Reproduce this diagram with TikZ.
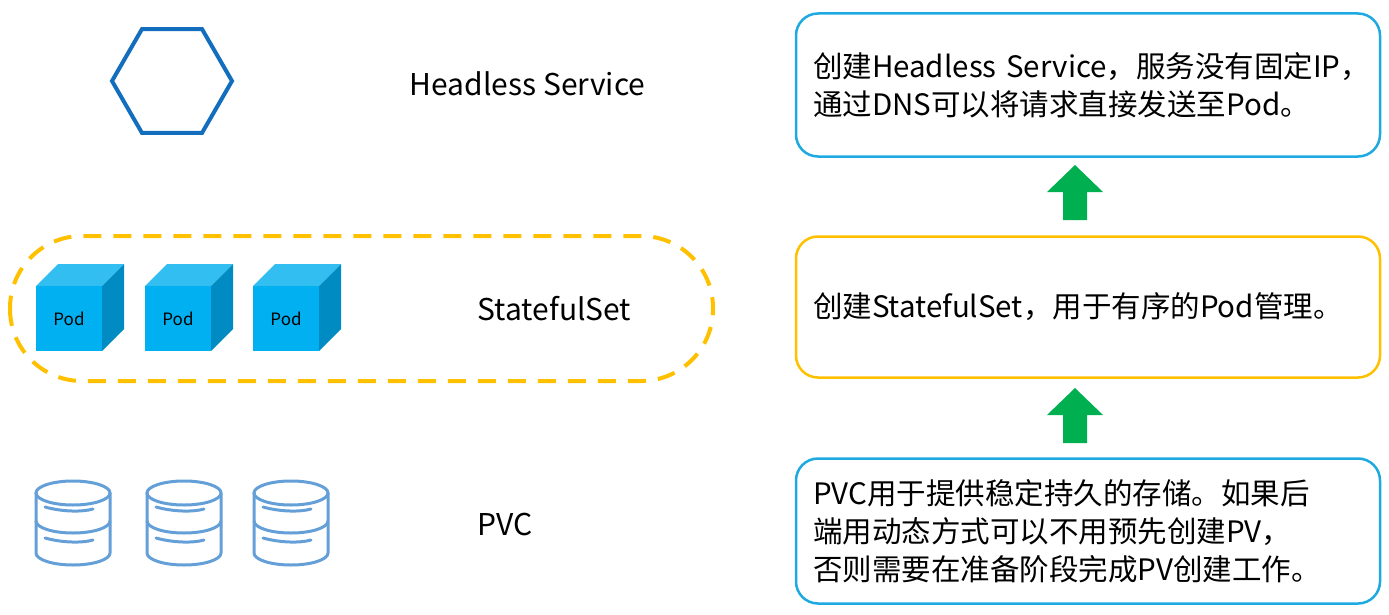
\documentclass[tikz,border=0pt]{standalone}
\usepackage{fontspec}
\setmainfont{Noto Sans CJK SC}
\usetikzlibrary{shapes.geometric,positioning}
\definecolor{skyblue}{RGB}{30,170,225}
\definecolor{gold}{RGB}{255,192,0}
\definecolor{podface}{RGB}{0,176,240}
\definecolor{podtop}{RGB}{51,190,242}
\definecolor{podside}{RGB}{0,140,195}
\definecolor{dbblue}{RGB}{100,160,215}
\definecolor{hexblue}{RGB}{20,110,190}
\definecolor{upgreen}{RGB}{0,176,80}
\tikzset{every picture/.style={line width=0.75pt}}
\tikzset{
  infobox/.style={draw, line width=2.5pt, rounded corners=22pt, text width=550pt, inner xsep=17pt, align=left, font=\fontsize{29.5}{38}\selectfont},
  label/.style={font=\fontsize{30}{34}\selectfont, anchor=west},
  pod/.pic={
    \fill[podtop] (0,0) -- (22,-22) -- (88,-22) -- (66,0) -- cycle;
    \fill[podside] (66,0) -- (88,-22) -- (88,43) -- (66,65) -- cycle;
    \fill[podface] (0,0) rectangle (66,65);
    \node[font=\fontsize{17}{18}\selectfont] at (33,33) {Pod};
  },
  db/.pic={
    \draw[dbblue, line width=3pt, line cap=round] (0,0) ellipse (37 and 12);
    \draw[dbblue, line width=3pt, line cap=round] (-37,0) -- (-37,60) arc[start angle=180, end angle=0, x radius=37, y radius=12] -- (37,0);
    \draw[dbblue, line width=3pt, line cap=round] (-37,28) arc[start angle=180, end angle=0, x radius=37, y radius=12];
    \draw[dbblue, line width=3pt, line cap=round] (-28,14) .. controls (-10,19) and (10,19) .. (20,16);
    \draw[dbblue, line width=3pt, line cap=round] (-28,45) .. controls (-10,50) and (10,50) .. (20,47);
  },
  uparrow/.style={fill=upgreen}
}
\begin{document}
\begin{tikzpicture}[x=1pt,y=-1pt]
\useasboundingbox (0,0) rectangle (1389,615);

% left column
\node[draw=hexblue, line width=4pt, regular polygon, regular polygon sides=6, minimum size=120pt, inner sep=0pt] (hex) at (172,81) {};
\draw[gold, line width=4pt, dash pattern={on 18pt off 12pt}, rounded corners=72pt] (10,236) rectangle (713,381);
\foreach \x in {36,145,253} \pic at (\x,286) {pod};
\foreach \x in {73,184,291} \pic at (\x,493) {db};

\node[label] (hsvc) at (406,84) {Headless Service};
\node[label] (sset) at (474,309) {StatefulSet};
\node[label] (pvc) at (474,524) {PVC};

% right column
\node[infobox, draw=skyblue, minimum height=143pt] (svcbox) at (1088,85) {\mbox{创建Headless Service，服务没有固定IP，}\\通过DNS可以将请求直接发送至Pod。};
\node[infobox, draw=gold, minimum height=141pt] (setbox) at (1088,307) {创建StatefulSet，用于有序的Pod管理。};
\node[infobox, draw=skyblue, minimum height=145pt] (pvcbox) at (1088,531) {PVC用于提供稳定持久的存储。如果后\\端用动态方式可以不用预先创建PV，\\否则需要在准备阶段完成PV创建工作。};

% arrows
\foreach \y in {165,388} \fill[uparrow] (1075,\y) -- (1103,\y+27) -- (1087,\y+27) -- (1087,\y+55) -- (1063,\y+55) -- (1063,\y+27) -- (1047,\y+27) -- cycle;
\end{tikzpicture}
\end{document}
